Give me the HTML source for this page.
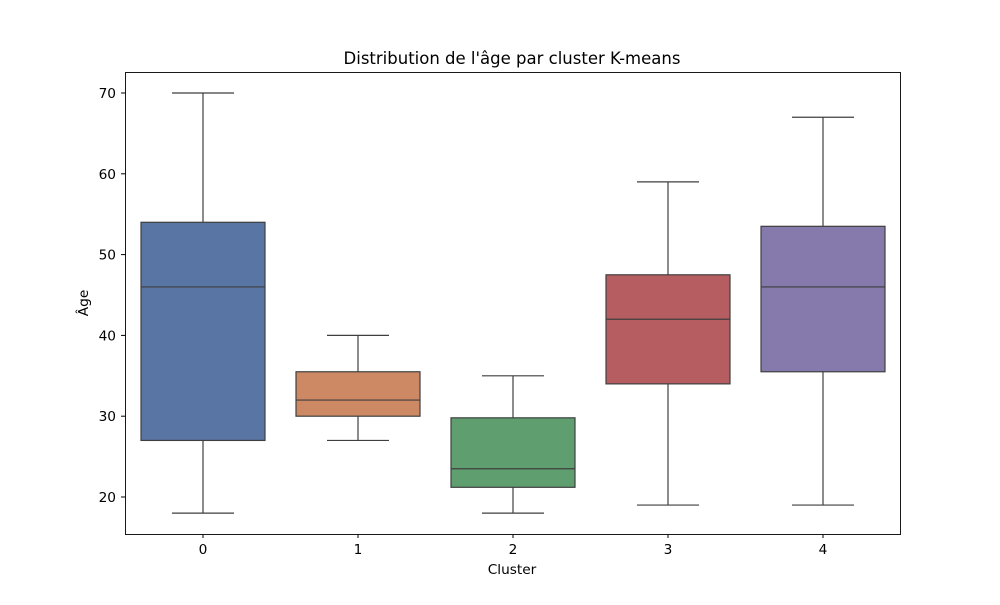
<!DOCTYPE html>
<html><head><meta charset="utf-8"><style>
body{margin:0;background:#fff;font-family:"Liberation Sans","DejaVu Sans",sans-serif;}
svg text{font-family:"DejaVu Sans","Liberation Sans",sans-serif;}
</style></head><body>
<svg id="chart" width="1000" height="600" xmlns="http://www.w3.org/2000/svg">
<rect width="1000" height="600" fill="#fff"/>
<text x="512" y="64" text-anchor="middle" font-size="16.5">Distribution de l'âge par cluster K-means</text>
<g id="boxes"></g>
<rect x="125.5" y="72.5" width="775" height="462" fill="none" stroke="#000" stroke-width="0.9"/>
<g id="axes"></g>
<text x="512" y="574" text-anchor="middle" font-size="13.7">Cluster</text>
<text transform="translate(88,303) rotate(-90)" text-anchor="middle" font-size="13.7">Âge</text>
</svg>
<script>
const categories=["0","1","2","3","4"];
const whiskerLow=[18,27,18,19,19];
const q1=[27,30,21.2,34,35.5];
const medians=[46,32,23.5,42,46];
const q3=[54,35.5,29.8,47.5,53.5];
const whiskerHigh=[70,40,35,59,67];
const yTicks=[20,30,40,50,60,70];
const colors=["#5975a4","#cc8963","#5f9e6e","#b55d60","#857aab"];
const NS="http://www.w3.org/2000/svg";
function y(v){return 497-(v-20)*8.08;}
function x(i){return 203+i*155;}
const bw=124;
function mk(t,a,p){const e=document.createElementNS(NS,t);for(const k in a)e.setAttribute(k,a[k]);p.appendChild(e);return e;}
const bx=document.getElementById('boxes'),ax=document.getElementById('axes');
categories.forEach((c,i)=>{
 const g=mk('g',{},bx);
 
 
 const cx=x(i),st={stroke:'#3f3f3f','stroke-width':1.2};
 mk('line',Object.assign({x1:cx,x2:cx,y1:y(q3[i]),y2:y(whiskerHigh[i])},st),g);
 mk('line',Object.assign({x1:cx,x2:cx,y1:y(q1[i]),y2:y(whiskerLow[i])},st),g);
 mk('line',Object.assign({x1:cx-bw/4,x2:cx+bw/4,y1:y(whiskerHigh[i]),y2:y(whiskerHigh[i])},st),g);
 mk('line',Object.assign({x1:cx-bw/4,x2:cx+bw/4,y1:y(whiskerLow[i]),y2:y(whiskerLow[i])},st),g);
 mk('rect',Object.assign({x:cx-bw/2,y:y(q3[i]),width:bw,height:y(q1[i])-y(q3[i]),fill:colors[i]},st),g);
 mk('line',Object.assign({x1:cx-bw/2,x2:cx+bw/2,y1:y(medians[i]),y2:y(medians[i])},st),g);
 mk('line',{x1:cx,x2:cx,y1:534.5,y2:538,stroke:'#000'},ax);
 const t=mk('text',{x:cx,y:554,'text-anchor':'middle','font-size':13.7},ax);t.textContent=c;
 
 
});
yTicks.forEach(v=>{
 mk('line',{x1:121,x2:125.5,y1:y(v),y2:y(v),stroke:'#000'},ax);
 const t=mk('text',{x:116,y:y(v)+5,'text-anchor':'end','font-size':13.7},ax);t.textContent=v;
 
 
});
</script>
</body></html>
